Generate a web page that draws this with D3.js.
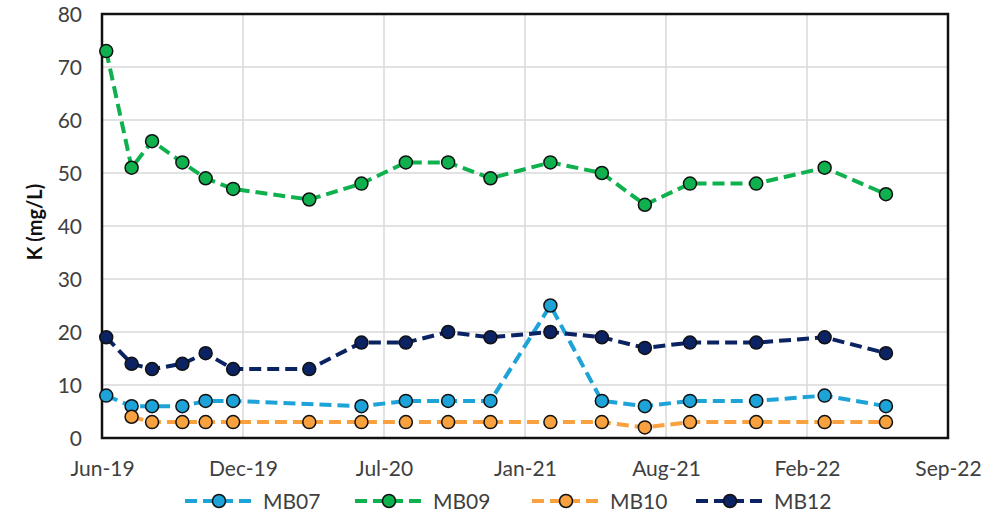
<!DOCTYPE html>
<html>
<head>
<meta charset="utf-8">
<script src="https://cdn.jsdelivr.net/npm/d3@7"></script>
<style>
  body { margin: 0; background: #fff; }
  text { font-family: Lato, "Liberation Sans", sans-serif; fill: #404040; }
</style>
</head>
<body>
<script>
// sampling dates and K concentrations (mg/L) per well
var dates = ["2019-06-07","2019-07-13","2019-08-11","2019-09-23","2019-10-26","2019-12-04",
             "2020-03-21","2020-06-03","2020-08-05","2020-10-04","2020-12-03","2021-02-26",
             "2021-05-10","2021-07-10","2021-09-12","2021-12-15","2022-03-22","2022-06-17"];
var seriesNames = ["MB07", "MB09", "MB10", "MB12"];
var MB07 = [8, 6, 6, 6, 7, 7, null, 6, 7, 7, 7, 25, 7, 6, 7, 7, 8, 6];
var MB09 = [73, 51, 56, 52, 49, 47, 45, 48, 52, 52, 49, 52, 50, 44, 48, 48, 51, 46];
var MB10 = [null, 4, 3, 3, 3, 3, 3, 3, 3, 3, 3, 3, 3, 2, 3, 3, 3, 3];
var MB12 = [19, 14, 13, 14, 16, 13, 13, 18, 18, 20, 19, 20, 19, 17, 18, 18, 19, 16];
var yTicks = [0, 10, 20, 30, 40, 50, 60, 70, 80];
var xStart = "2019-06-01", tickStepDays = 200, tickCount = 7;

var seriesValues = [MB07, MB09, MB10, MB12];
var colors = ["#1ea3d8", "#0fb04e", "#f9a13e", "#0b2263"];

var width = 1007, height = 519;
var margin = {left: 102, right: 59, top: 14, bottom: 81};

var parse = d3.timeParse("%Y-%m-%d");
var t0 = parse(xStart);
var tickDates = d3.range(tickCount).map(function(i){ return d3.timeDay.offset(t0, i * tickStepDays); });

var x = d3.scaleTime()
    .domain([t0, tickDates[tickDates.length - 1]])
    .range([margin.left, width - margin.right]);
var y = d3.scaleLinear()
    .domain([0, 80])
    .range([height - margin.bottom, margin.top]);

var svg = d3.select("body").append("svg")
    .attr("width", width)
    .attr("height", height);

// gridlines
svg.append("g")
    .selectAll("line.h")
    .data(yTicks)
    .enter().append("line")
    .attr("x1", margin.left).attr("x2", width - margin.right)
    .attr("y1", function(d){ return y(d); }).attr("y2", function(d){ return y(d); })
    .attr("stroke", "#d9d9d9").attr("stroke-width", 1.5);
svg.append("g")
    .selectAll("line.v")
    .data(tickDates)
    .enter().append("line")
    .attr("x1", function(d){ return x(d); }).attr("x2", function(d){ return x(d); })
    .attr("y1", margin.top).attr("y2", height - margin.bottom)
    .attr("stroke", "#d9d9d9").attr("stroke-width", 1.5);

// axes (labels only, Excel style)
var yAxis = svg.append("g")
    .attr("transform", "translate(" + (margin.left - 20) + ",0)")
    .call(d3.axisLeft(y).tickValues(yTicks).tickSize(0).tickPadding(0));
yAxis.select(".domain").remove();
yAxis.selectAll("text").style("font-size", "21px").attr("fill", "#404040").attr("dy", "0.36em");

var xAxis = svg.append("g")
    .attr("transform", "translate(0," + (height - margin.bottom) + ")")
    .call(d3.axisBottom(x).tickValues(tickDates).tickFormat(d3.timeFormat("%b-%y")).tickSize(0).tickPadding(23));
xAxis.select(".domain").remove();
xAxis.selectAll("text").style("font-size", "21px").attr("fill", "#404040");

// plot frame
svg.append("rect")
    .attr("x", margin.left).attr("y", margin.top)
    .attr("width", width - margin.left - margin.right)
    .attr("height", height - margin.top - margin.bottom)
    .attr("fill", "none").attr("stroke", "#111").attr("stroke-width", 2.5);

// y title
svg.append("text")
    .attr("transform", "translate(42," + ((margin.top + height - margin.bottom) / 2 - 4) + ") rotate(-90)")
    .attr("text-anchor", "middle")
    .style("font-size", "20px").style("font-weight", "bold")
    .style("fill", "#111")
    .text("K (mg/L)");

// series
var line = d3.line()
    .x(function(d){ return x(d.date); })
    .y(function(d){ return y(d.value); });

seriesNames.forEach(function(name, i){
    var pts = [];
    for (var k = 0; k < dates.length; k++){
        if (seriesValues[i][k] !== null) pts.push({date: parse(dates[k]), value: seriesValues[i][k]});
    }
    var g = svg.append("g").attr("class", "series " + name);
    g.append("path")
        .datum(pts)
        .attr("d", line)
        .attr("fill", "none")
        .attr("stroke", colors[i])
        .attr("stroke-width", 4)
        .attr("stroke-dasharray", "12,6");
    g.selectAll("circle")
        .data(pts)
        .enter().append("circle")
        .attr("cx", function(d){ return x(d.date); })
        .attr("cy", function(d){ return y(d.value); })
        .attr("r", 6.5)
        .attr("fill", colors[i])
        .attr("stroke", "#111")
        .attr("stroke-width", 1.5);
});

// legend
var legendX = [185, 355, 532, 696];
var legendY = 501;
seriesNames.forEach(function(name, i){
    var lg = svg.append("g").attr("transform", "translate(" + legendX[i] + "," + legendY + ")");
    lg.append("line")
        .attr("x1", 0).attr("x2", 70).attr("y1", 0).attr("y2", 0)
        .attr("stroke", colors[i]).attr("stroke-width", 4)
        .attr("stroke-dasharray", "12,6");
    lg.append("circle")
        .attr("cx", 34).attr("cy", 0).attr("r", 6.5)
        .attr("fill", colors[i]).attr("stroke", "#111").attr("stroke-width", 1.5);
    lg.append("text")
        .attr("x", 78).attr("y", 0).attr("dy", "0.36em")
        .style("font-size", "21px")
        .text(name);
});
</script>
</body>
</html>
